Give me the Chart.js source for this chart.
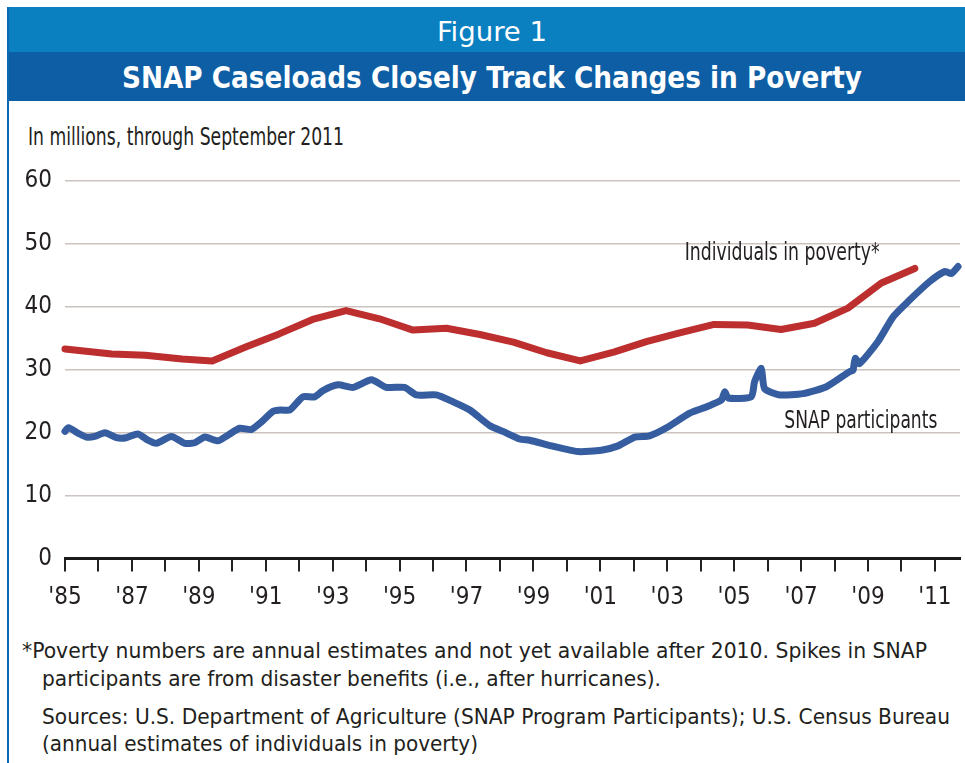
<!DOCTYPE html>
<html>
<head>
<meta charset="utf-8">
<script src="https://cdn.jsdelivr.net/npm/chart.js@4.4.1/dist/chart.umd.min.js"></script>
<style>
  body { margin: 0; background: #fff; }
  #wrap { position: relative; width: 965px; height: 763px; overflow: hidden; background: #fff; }
  .band { position: absolute; left: 7px; right: 0; }
  .txt { position: absolute; white-space: nowrap; transform-origin: left center; color: #231f20;
         font-family: "Liberation Sans Narrow", "DejaVu Sans Condensed", "Open Sans", sans-serif; }
  #chart { position: absolute; left: 0; top: 0; }
</style>
</head>
<body>
<div id="wrap">
  <div class="band" style="top:7px;height:45px;background:#0a80c1"></div>
  <div class="band" style="top:52px;height:49px;background:#0d5ea4"></div>
  <div style="position:absolute;left:7px;top:7px;width:2px;height:756px;background:#0f68b2"></div>

  <div class="txt fit" data-x="437" data-y="32" data-w="110" style="font-size:27px;color:#fff">Figure 1</div>
  <div class="txt fit" data-x="122" data-y="78" data-w="740" style="font-size:30px;font-weight:bold;color:#fff">SNAP Caseloads Closely Track Changes in Poverty</div>
  <div class="txt fit" data-x="28" data-y="137" data-w="316" style="font-size:24px">In millions, through September 2011</div>

  <div class="txt fit" data-x="22" data-y="652" data-w="905" style="font-size:21px">*Poverty numbers are annual estimates and not yet available after 2010. Spikes in SNAP</div>
  <div class="txt fit" data-x="42" data-y="680" data-w="619" style="font-size:21px">participants are from disaster benefits (i.e., after hurricanes).</div>
  <div class="txt fit" data-x="42" data-y="718" data-w="908" style="font-size:21px">Sources: U.S. Department of Agriculture (SNAP Program Participants); U.S. Census Bureau</div>
  <div class="txt fit" data-x="42" data-y="745" data-w="436" style="font-size:21px">(annual estimates of individuals in poverty)</div>

  <canvas id="chart" width="965" height="763"></canvas>
</div>
<script>
const FONT = '"Liberation Sans Narrow", "DejaVu Sans Condensed", "Open Sans", sans-serif';

// Individuals in poverty, annual estimates (millions), plotted near mid-year
const povertyYears = [1985, 1986.4, 1987.4, 1988.5, 1989.4, 1990.4, 1991.4, 1992.4, 1993.4, 1994.4,
  1995.4, 1996.4, 1997.4, 1998.4, 1999.4, 2000.4, 2001.4, 2002.4, 2003.4, 2004.4,
  2005.4, 2006.4, 2007.4, 2008.4, 2009.4, 2010.4];
const povertyValues = [33.3, 32.5, 32.3, 31.7, 31.4, 33.6, 35.7, 38.0, 39.4, 38.1,
  36.3, 36.6, 35.6, 34.4, 32.7, 31.4, 32.8, 34.5, 35.9, 37.2,
  37.1, 36.4, 37.4, 39.8, 43.8, 46.1];

// SNAP participants (millions)
const snapYears = [1985.00, 1985.10, 1985.40, 1985.64, 1985.89, 1986.19, 1986.54, 1986.83, 1987.18, 1987.48,
  1987.73, 1988.18, 1988.58, 1988.88, 1989.18, 1989.57, 1989.87, 1990.22, 1990.57, 1990.87,
  1991.22, 1991.47, 1991.72, 1992.11, 1992.46, 1992.71, 1993.16, 1993.61, 1994.16, 1994.60,
  1995.15, 1995.50, 1996.10, 1996.60, 1997.10, 1997.70, 1998.09, 1998.59, 1998.89, 1999.54,
  2000.33, 2001.03, 2001.53, 2002.03, 2002.47, 2003.02, 2003.67, 2004.22, 2004.62, 2004.72,
  2004.82, 2005.51, 2005.61, 2005.81, 2005.91, 2006.36, 2007.06, 2007.76, 2008.45, 2008.55,
  2008.62, 2008.75, 2009.30, 2009.75, 2010.19, 2010.84, 2011.29, 2011.49, 2011.69];
const snapValues = [20.2, 20.8, 19.9, 19.3, 19.4, 20.0, 19.2, 19.2, 19.8, 18.8,
  18.3, 19.4, 18.3, 18.4, 19.3, 18.7, 19.6, 20.7, 20.5, 21.7,
  23.4, 23.6, 23.6, 25.7, 25.7, 26.7, 27.6, 27.2, 28.4, 27.2,
  27.2, 26.0, 26.0, 24.9, 23.6, 21.1, 20.2, 19.0, 18.8, 17.9,
  17.0, 17.2, 17.9, 19.3, 19.5, 20.9, 23.1, 24.2, 25.2, 26.5,
  25.5, 25.7, 28.1, 30.2, 27.0, 26.0, 26.2, 27.3, 29.7, 29.9,
  31.8, 31.0, 34.5, 38.4, 40.8, 44.0, 45.6, 45.3, 46.4];

const yTicks = [0, 10, 20, 30, 40, 50, 60];

// fit html text lines to the widths measured on the figure
document.querySelectorAll('.fit').forEach(el => {
  const h = parseFloat(el.style.fontSize) * 1.2;
  el.style.lineHeight = h + 'px';
  el.style.left = el.dataset.x + 'px';
  el.style.top = (el.dataset.y - h / 2) + 'px';
  const w = el.getBoundingClientRect().width;
  el.style.transform = 'scaleX(' + (el.dataset.w / w) + ')';
});

function fitText(ctx, text, x, y, w) {
  ctx.save();
  ctx.font = '25px ' + FONT;
  const m = ctx.measureText(text).width;
  ctx.translate(x, y);
  ctx.scale(w / m, 1);
  ctx.textBaseline = 'middle';
  ctx.fillStyle = '#231f20';
  ctx.fillText(text, 0, 0);
  ctx.restore();
}

const lineLabels = {
  id: 'lineLabels',
  afterDatasetsDraw(chart) {
    const { ctx, scales: { x, y } } = chart;
    fitText(ctx, 'Individuals in poverty*', x.getPixelForValue(2003.52), y.getPixelForValue(48.5), 195);
    fitText(ctx, 'SNAP participants', x.getPixelForValue(2006.5), y.getPixelForValue(21.8), 153);
  }
};

new Chart(document.getElementById('chart'), {
  type: 'line',
  data: {
    datasets: [{
      label: 'Individuals in poverty',
      data: povertyYears.map((t, i) => ({ x: t, y: povertyValues[i] })),
      borderColor: '#bd2e2f',
      borderWidth: 7,
      pointRadius: 0,
      tension: 0,
      clip: false,
      borderJoinStyle: 'round',
      borderCapStyle: 'round'
    }, {
      label: 'SNAP participants',
      data: snapYears.map((t, i) => ({ x: t, y: snapValues[i] })),
      borderColor: '#355da0',
      borderWidth: 7,
      pointRadius: 0,
      tension: 0.2,
      clip: false,
      borderJoinStyle: 'round',
      borderCapStyle: 'round'
    }]
  },
  options: {
    responsive: false,
    devicePixelRatio: 1,
    animation: false,
    layout: { padding: { top: 181, right: 5, left: 0, bottom: 0 } },
    plugins: { legend: { display: false }, tooltip: { enabled: false } },
    scales: {
      x: {
        type: 'linear',
        min: 1985, max: 2011.75,
        afterFit(s) { s.height = 763 - 558.5; },
        grid: { drawOnChartArea: false, drawTicks: true, tickLength: 13, tickColor: '#222', tickWidth: 2, lineWidth: 2, color: '#222' },
        border: { display: true, color: '#1a1a1a', width: 3 },
        ticks: {
          stepSize: 1, includeBounds: false, autoSkip: false, maxRotation: 0, padding: 12,
          color: '#231f20', font: { family: FONT, size: 24 },
          callback: v => (v % 2 === 1 ? "'" + String(v).slice(2) : '')
        }
      },
      y: {
        min: 0, max: 60,
        afterFit(s) { s.width = 65; },
        grid: {
          drawTicks: false, lineWidth: 1.5,
          color: c => (c.tick.value === 0 ? 'rgba(0,0,0,0)' : '#cbc3bf')
        },
        border: { display: false },
        ticks: {
          stepSize: 5, padding: 13,
          color: '#231f20', font: { family: FONT, size: 24 },
          callback: v => (yTicks.includes(v) ? v : '')
        }
      }
    }
  },
  plugins: [lineLabels]
});
</script>
</body>
</html>
